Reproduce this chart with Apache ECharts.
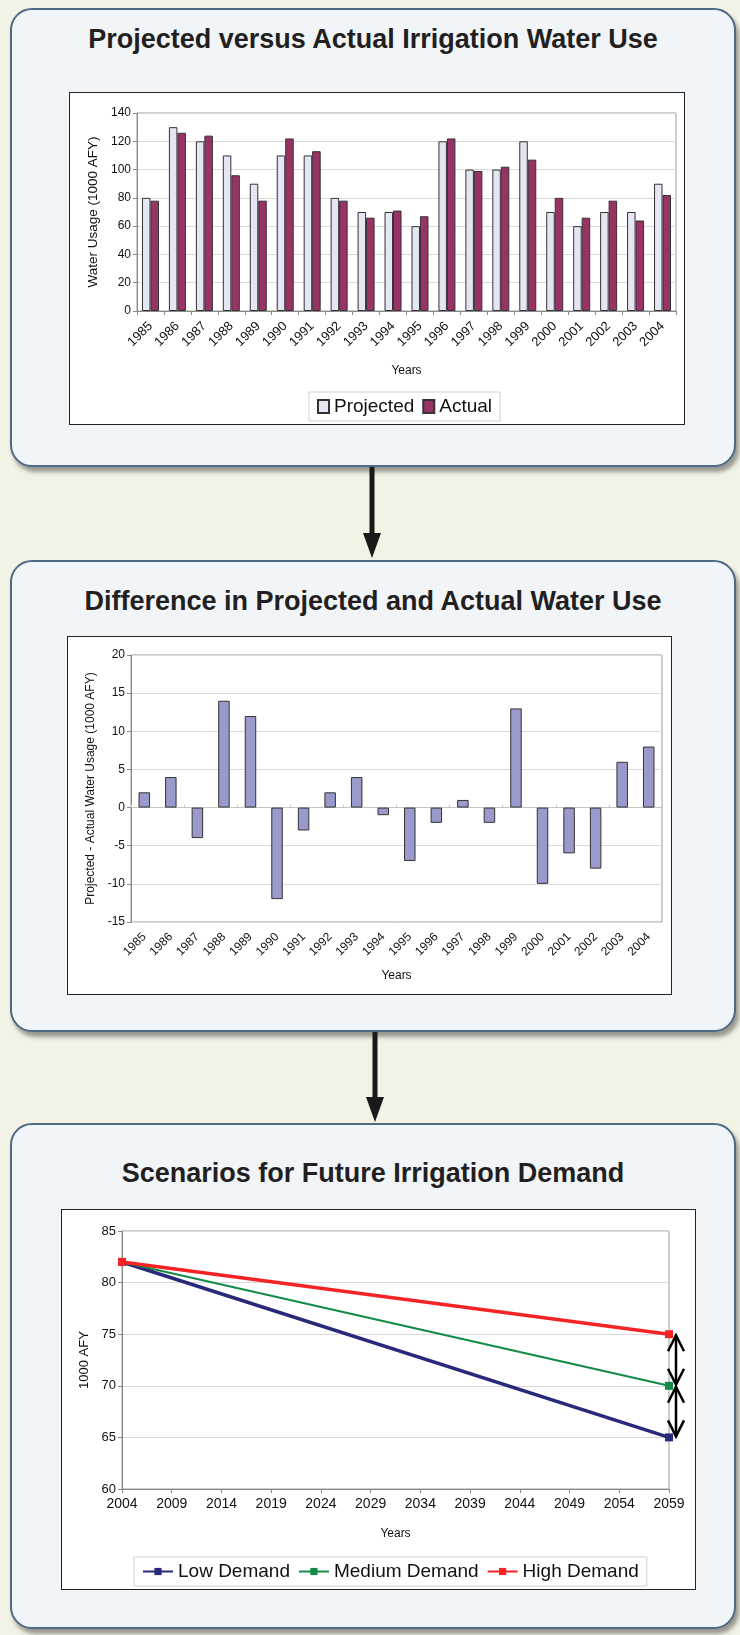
<!DOCTYPE html>
<html>
<head>
<meta charset="utf-8">
<title>Irrigation Water Use</title>
<script src="https://cdn.jsdelivr.net/npm/echarts@6/dist/echarts.min.js"></script>
<style>
  html, body { margin: 0; padding: 0; }
  body {
    width: 740px; height: 1635px; position: relative; overflow: hidden;
    background: #f3f3e5;
    font-family: 'Liberation Sans', Arial, sans-serif;
  }
  .panel {
    position: absolute; left: 10px; width: 726px; box-sizing: border-box;
    background: #f1f5f8; border: 2px solid #4f6a86; border-radius: 22px;
    box-shadow: 3px 5px 4px rgba(40, 40, 40, 0.45);
  }
  .title {
    position: absolute; left: 10px; width: 726px; text-align: center;
    font-weight: bold; font-size: 27px; line-height: 32px; color: #231f20;
  }
  .chart {
    position: absolute; box-sizing: border-box;
    background: #fff; border: 1px solid #222;
  }
  .arrow { position: absolute; }
</style>
</head>
<body>

<div class="panel" style="top:8px;height:459px"></div>
<div class="panel" style="top:560px;height:472px"></div>
<div class="panel" style="top:1123px;height:506px"></div>

<div class="title" style="top:23px">Projected versus Actual Irrigation Water Use</div>
<div class="title" style="top:585px">Difference in Projected and Actual Water Use</div>
<div class="title" style="top:1157px">Scenarios for Future Irrigation Demand</div>

<svg class="arrow" style="left:362px;top:467px" width="20" height="93">
  <rect x="7.5" y="0" width="5" height="70" fill="#1a1a1a"></rect>
  <polygon points="1,66 19,66 10,91" fill="#1a1a1a"></polygon>
</svg>
<svg class="arrow" style="left:365px;top:1032px" width="20" height="92">
  <rect x="7.5" y="0" width="5" height="69" fill="#1a1a1a"></rect>
  <polygon points="1,65 19,65 10,90" fill="#1a1a1a"></polygon>
</svg>

<div id="usageChart" class="chart" style="left:69px;top:92px;width:616px;height:333px"></div>
<div id="diffChart" class="chart" style="left:67px;top:636px;width:605px;height:359px"></div>
<div id="scenarioChart" class="chart" style="left:61px;top:1209px;width:635px;height:381px"></div>

<script>
// data
var years = ['1985', '1986', '1987', '1988', '1989', '1990', '1991', '1992', '1993', '1994',
             '1995', '1996', '1997', '1998', '1999', '2000', '2001', '2002', '2003', '2004'];
var projected = [80, 130, 120, 110, 90, 110, 110, 80, 70, 70, 60, 120, 100, 100, 120, 70, 60, 70, 70, 90];
var actual = [78, 126, 124, 96, 78, 122, 113, 78, 66, 71, 67, 122, 99, 102, 107, 80, 66, 78, 64, 82];
var difference = [2, 4, -4, 14, 12, -12, -3, 2, 4, -1, -7, -2, 1, -2, 13, -10, -6, -8, 6, 8];

var usageTicks = [0, 20, 40, 60, 80, 100, 120, 140];
var diffTicks = [-15, -10, -5, 0, 5, 10, 15, 20];
var demandTicks = [60, 65, 70, 75, 80, 85];
var scenarioTicks = ['2004', '2009', '2014', '2019', '2024', '2029', '2034', '2039', '2044', '2049', '2054', '2059'];

var scenarioYears = ['2004', '2059'];
var lowDemand = [82, 65];
var mediumDemand = [82, 70];
var highDemand = [82, 75];
var demandGaps = [[75, 70], [70, 65]];   // double arrows at 2059

var FONT = "'Liberation Sans', Arial, sans-serif";
var AXIS_GRAY = '#8a8a8a';
var GRID_GRAY = '#dadada';

function valueAxis(ticks, name, nameGap, fontSize) {
    return {
        type: 'value',
        min: ticks[0],
        max: ticks[ticks.length - 1],
        interval: ticks[1] - ticks[0],
        name: name,
        nameLocation: 'middle',
        nameGap: nameGap,
        nameTextStyle: { color: '#111', fontSize: fontSize, fontFamily: FONT },
        axisLine: { show: true, lineStyle: { color: AXIS_GRAY, width: 1 } },
        axisTick: { show: true, length: 4, lineStyle: { color: AXIS_GRAY } },
        axisLabel: { color: '#111', fontSize: 12, fontFamily: FONT, margin: 6 },
        splitLine: { show: true, lineStyle: { color: GRID_GRAY, width: 1 } }
    };
}

function yearAxis(nameGap, labelSize, labelMargin) {
    return {
        type: 'category',
        data: years,
        name: 'Years',
        nameLocation: 'middle',
        nameGap: nameGap,
        nameTextStyle: { color: '#111', fontSize: 12, fontFamily: FONT },
        axisLine: { show: true, onZero: false, lineStyle: { color: AXIS_GRAY } },
        axisTick: { show: true, length: 4, lineStyle: { color: AXIS_GRAY } },
        axisLabel: { rotate: 45, color: '#111', fontSize: labelSize, fontFamily: FONT, margin: labelMargin, interval: 0 },
        splitLine: { show: false }
    };
}

// chart 1: projected vs actual
var usageChart = echarts.init(document.getElementById('usageChart'));
usageChart.setOption({
    animation: false,
    textStyle: { fontFamily: FONT },
    grid: {
        left: 67, right: 8, top: 20, bottom: 113,
        show: true, borderColor: '#9a9a9a', borderWidth: 1, backgroundColor: '#fff',
        outerBoundsMode: 'none'
    },
    legend: {
        data: ['Projected', 'Actual'],
        icon: 'rect',
        left: 239, top: 299,
        padding: [5, 8, 5, 8],
        itemGap: 8, itemWidth: 11, itemHeight: 13,
        borderColor: '#cfcfcf', borderWidth: 1, backgroundColor: '#fff',
        textStyle: { color: '#111', fontSize: 19, fontFamily: FONT }
    },
    xAxis: yearAxis(54, 13, 13),
    yAxis: valueAxis(usageTicks, 'Water Usage (1000 AFY)', 37, 13.5),
    series: [
        {
            name: 'Projected', type: 'bar', data: projected,
            barWidth: 8.5, barGap: '0%',
            itemStyle: { color: '#e5e5f3', borderColor: '#333', borderWidth: 1 }
        },
        {
            name: 'Actual', type: 'bar', data: actual,
            barWidth: 8.5, barGap: '0%',
            itemStyle: { color: '#993366', borderColor: '#333', borderWidth: 1 }
        }
    ]
});

// chart 2: projected minus actual
var diffChart = echarts.init(document.getElementById('diffChart'));
var zeroAxis = yearAxis(0, 12, 8);
zeroAxis.name = '';
zeroAxis.axisLine = { show: true, onZero: true, lineStyle: { color: '#c4c4c4' } };
zeroAxis.axisTick = { show: true, length: 3, inside: false, lineStyle: { color: '#c4c4c4' } };
zeroAxis.axisLabel = { show: false };
var bottomAxis = yearAxis(48, 12, 13);
bottomAxis.axisLine = { show: false, onZero: false };
bottomAxis.axisTick = { show: false };
diffChart.setOption({
    animation: false,
    textStyle: { fontFamily: FONT },
    grid: {
        left: 63, right: 9, top: 18, bottom: 72,
        show: true, borderColor: '#9a9a9a', borderWidth: 1, backgroundColor: '#fff',
        outerBoundsMode: 'none'
    },
    xAxis: [bottomAxis, zeroAxis],
    yAxis: valueAxis(diffTicks, 'Projected - Actual Water Usage (1000 AFY)', 34, 12),
    series: [
        {
            name: 'Difference', type: 'bar', data: difference,
            xAxisIndex: 0, barWidth: 11.5,
            itemStyle: { color: '#9999cc', borderColor: '#333', borderWidth: 1 }
        }
    ]
});

// chart 3: future demand scenarios
var scenarioChart = echarts.init(document.getElementById('scenarioChart'));
function scenarioLine(name, values, color, width) {
    return {
        name: name, type: 'line',
        data: scenarioYears.map(function (y, i) { return [y, values[i]]; }),
        symbol: 'rect', symbolSize: 8, showSymbol: true,
        lineStyle: { color: color, width: width },
        itemStyle: { color: color }
    };
}
var lastTick = scenarioTicks.length - 1;
scenarioChart.setOption({
    animation: false,
    textStyle: { fontFamily: FONT },
    grid: {
        left: 60, right: 26, top: 21, bottom: 100,
        show: true, borderColor: '#9a9a9a', borderWidth: 1, backgroundColor: '#fff',
        outerBoundsMode: 'none'
    },
    legend: {
        data: ['Low Demand', 'Medium Demand', 'High Demand'],
        left: 72, top: 347,
        padding: [5, 8, 5, 8],
        itemGap: 8, itemWidth: 30, itemHeight: 9,
        borderColor: '#cfcfcf', borderWidth: 1, backgroundColor: '#fff',
        textStyle: { color: '#111', fontSize: 19, fontFamily: FONT }
    },
    xAxis: {
        type: 'category',
        data: scenarioTicks,
        boundaryGap: false,
        name: 'Years',
        nameLocation: 'middle',
        nameGap: 39,
        nameTextStyle: { color: '#111', fontSize: 12, fontFamily: FONT },
        axisLine: { show: true, lineStyle: { color: AXIS_GRAY } },
        axisTick: { show: true, length: 4, lineStyle: { color: AXIS_GRAY } },
        axisLabel: { color: '#111', fontSize: 14, fontFamily: FONT, margin: 8, interval: 0 },
        splitLine: { show: false }
    },
    yAxis: (function () {
        var ax = valueAxis(demandTicks, '1000 AFY', 31, 13);
        ax.axisLabel.fontSize = 13;
        return ax;
    })(),
    series: [
        scenarioLine('Low Demand', lowDemand, '#29297c', 3.5),
        scenarioLine('Medium Demand', mediumDemand, '#148a48', 2),
        scenarioLine('High Demand', highDemand, '#f52323', 3.5),
        {
            name: 'gap', type: 'custom', silent: true, clip: false,
            data: demandGaps.map(function (g) { return [lastTick, g[0], g[1]]; }),
            renderItem: function (params, api) {
                var top = api.coord([api.value(0), api.value(1)]);
                var bot = api.coord([api.value(0), api.value(2)]);
                var x = top[0] + 7;
                var y1 = top[1] + 1;
                var y2 = bot[1] - 1;
                var st = { stroke: '#000', lineWidth: 2.5, fill: null };
                return {
                    type: 'group',
                    children: [
                        { type: 'line', shape: { x1: x, y1: y1, x2: x, y2: y2 }, style: st },
                        { type: 'polyline', shape: { points: [[x - 8, y1 + 16], [x, y1], [x + 8, y1 + 16]] }, style: st },
                        { type: 'polyline', shape: { points: [[x - 8, y2 - 16], [x, y2], [x + 8, y2 - 16]] }, style: st }
                    ]
                };
            }
        }
    ]
});
</script>
</body>
</html>
